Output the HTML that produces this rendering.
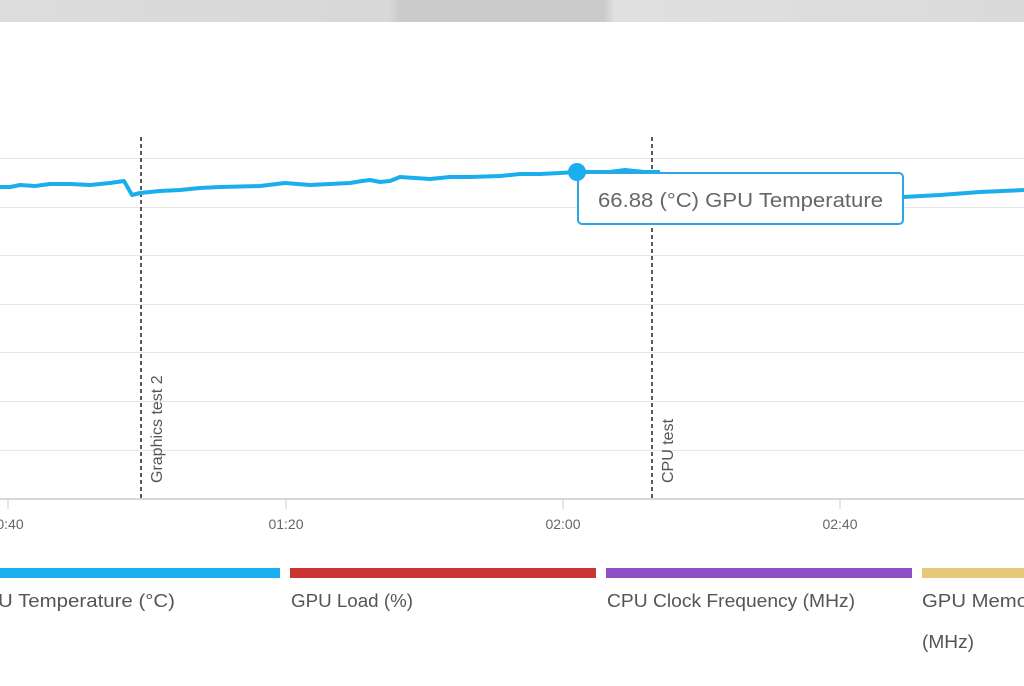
<!DOCTYPE html>
<html><head><meta charset="utf-8"><style>
html,body{margin:0;padding:0;background:#fff;}
body{width:1024px;height:686px;overflow:hidden;position:relative;font-family:"Liberation Sans",sans-serif;}
</style></head><body>
<svg width="1024" height="686" style="position:absolute;left:0;top:0">
<defs><linearGradient id="g" x1="0" x2="1"><stop offset="0" stop-color="#dcdcdc"/><stop offset="0.38" stop-color="#d8d8d8"/><stop offset="0.39" stop-color="#cbcbcb"/><stop offset="0.59" stop-color="#cbcbcb"/><stop offset="0.6" stop-color="#e0e0e0"/><stop offset="1" stop-color="#dadada"/></linearGradient></defs>
<rect x="0" y="0" width="1024" height="22" fill="url(#g)"/>
<g stroke="#e6e6e6" stroke-width="1">
<line x1="0" x2="1024" y1="158.5" y2="158.5"/><line x1="0" x2="1024" y1="207.5" y2="207.5"/>
<line x1="0" x2="1024" y1="255.5" y2="255.5"/><line x1="0" x2="1024" y1="304.5" y2="304.5"/>
<line x1="0" x2="1024" y1="352.5" y2="352.5"/><line x1="0" x2="1024" y1="401.5" y2="401.5"/>
<line x1="0" x2="1024" y1="450.5" y2="450.5"/>
</g>
<line x1="0" x2="1024" y1="499" y2="499" stroke="#ccc" stroke-width="1.5"/>
<g stroke="#ccc"><line x1="8" x2="8" y1="499" y2="509"/><line x1="286" x2="286" y1="499" y2="509"/><line x1="563" x2="563" y1="499" y2="509"/><line x1="840" x2="840" y1="499" y2="509"/></g>
<g font-size="14" fill="#666" text-anchor="middle"><text x="10" y="529">0:40</text><text x="286" y="529">01:20</text><text x="563" y="529">02:00</text><text x="840" y="529">02:40</text></g>
<g stroke="#222" stroke-width="1.5" stroke-dasharray="4,3"><line x1="141" x2="141" y1="137" y2="498"/><line x1="652" x2="652" y1="137" y2="498"/></g>
<g font-size="16" fill="#555"><text transform="translate(162,483) rotate(-90)">Graphics test 2</text><text transform="translate(673,483) rotate(-90)">CPU test</text></g>
<polyline fill="none" stroke="#1aaeee" stroke-width="4" stroke-linejoin="round" points="0,187 10,187 20,185 35,186 50,184 70,184 90,185 110,183 124,181 132,195 140,193 160,191 180,190 200,188 220,187 260,186 285,183 310,185 330,184 350,183 362,181 370,180 380,182 390,181 400,177 415,178 430,179 450,177 470,177 500,176 520,174 540,174 560,173 577,172 610,172 625,170 645,172 660,172"/>
<polyline fill="none" stroke="#1aaeee" stroke-width="4" points="903,197 940,195 980,192 1024,190"/>
<rect x="578" y="173" width="325" height="51" rx="4" fill="#fff" stroke="#29a9e0" stroke-width="2"/>
<text x="598" y="207" font-size="20" fill="#666" textLength="285" lengthAdjust="spacingAndGlyphs">66.88 (°C) GPU Temperature</text>
<circle cx="577" cy="172" r="9" fill="#1aaeee"/>
<rect x="0" y="568" width="280" height="10" fill="#1aaeee"/>
<rect x="290" y="568" width="306" height="10" fill="#cc3333"/>
<rect x="606" y="568" width="306" height="10" fill="#8e4fc4"/>
<rect x="922" y="568" width="102" height="10" fill="#e6c87a"/>
<g font-size="18" fill="#555" lengthAdjust="spacingAndGlyphs">
<text x="-2" y="607" textLength="177" lengthAdjust="spacingAndGlyphs">U Temperature (°C)</text>
<text x="291" y="607" textLength="122" lengthAdjust="spacingAndGlyphs">GPU Load (%)</text>
<text x="607" y="607" textLength="248" lengthAdjust="spacingAndGlyphs">CPU Clock Frequency (MHz)</text>
<text x="922" y="607" textLength="106" lengthAdjust="spacingAndGlyphs">GPU Memo</text>
<text x="922" y="648" textLength="52" lengthAdjust="spacingAndGlyphs">(MHz)</text></g>
</svg>
</body></html>
